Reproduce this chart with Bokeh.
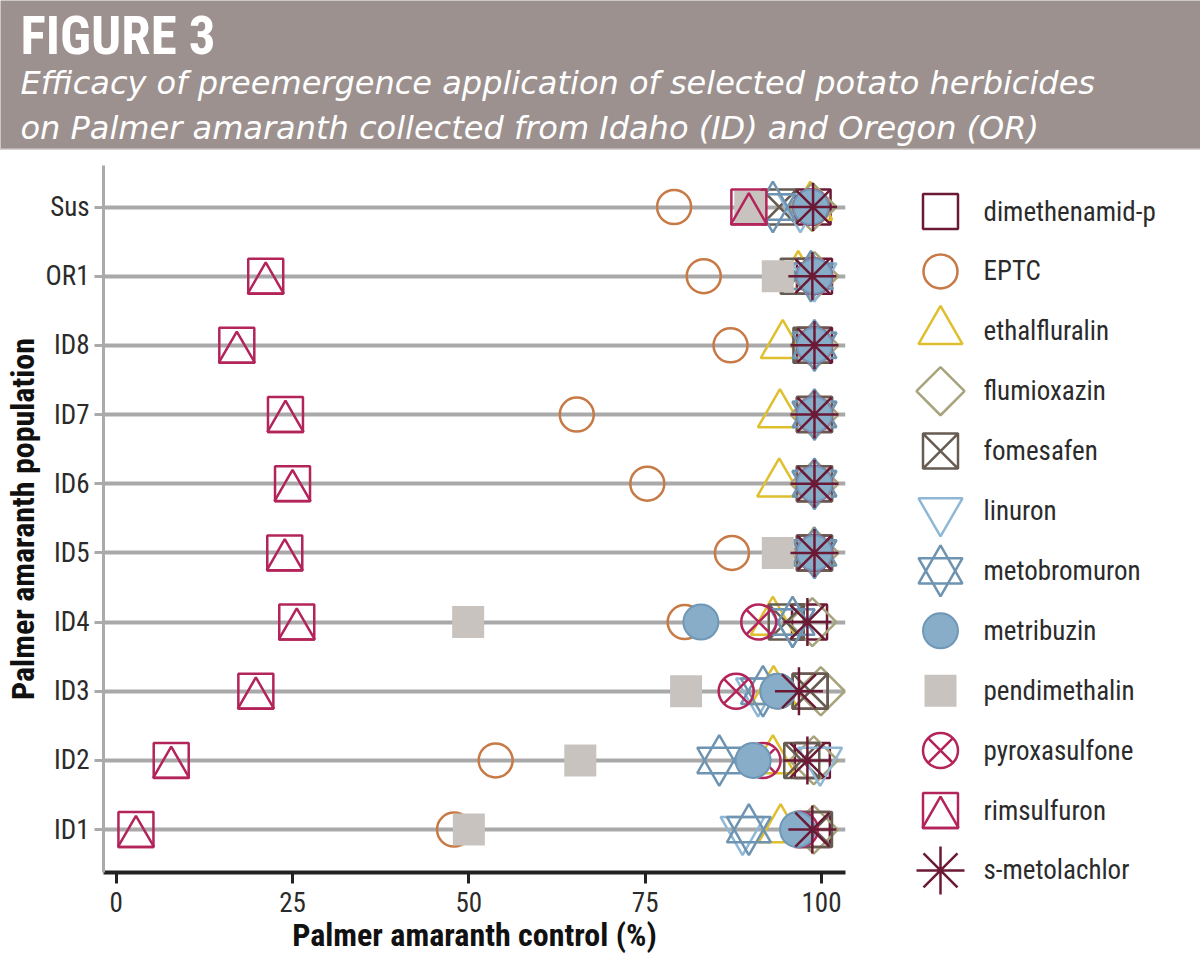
import numpy as np
from bokeh.plotting import figure
from bokeh.models import Range1d, FixedTicker, Label, Span
from bokeh.layouts import column, row
from bokeh.embed import file_html
from bokeh.resources import INLINE
from bokeh.core.properties import value

# ---------------- data ----------------
populations = ["ID1", "ID2", "ID3", "ID4", "ID5", "ID6", "ID7", "ID8", "OR1", "Sus"]
x_ticks = [0, 25, 50, 75, 100]

herbicides = ["dimethenamid-p", "EPTC", "ethalfluralin", "flumioxazin", "fomesafen",
              "linuron", "metobromuron", "metribuzin", "pendimethalin",
              "pyroxasulfone", "rimsulfuron", "s-metolachlor"]

#                  ID1   ID2   ID3   ID4   ID5   ID6   ID7   ID8   OR1   Sus
dimethenamid_p = [98.7, 98.7, 98.4, 98.3, 99.0, 99.0, 99.0, 99.0, 99.0, 98.8]
eptc           = [47.9, 53.8, 93.8, 80.6, 87.3, 75.3, 65.3, 87.1, 83.3, 79.1]
ethalfluralin  = [94.2, 93.1, 93.2, 93.1, 98.9, 94.0, 94.1, 94.5, 96.7, 98.4]
flumioxazin    = [98.9, 98.9, 99.9, 98.7, 99.0, 99.0, 99.0, 99.0, 99.0, 98.7]
fomesafen      = [99.0, 97.2, 98.4, 95.0, 99.0, 99.0, 99.0, 98.5, 96.7, 94.0]
linuron        = [88.8, 99.8, 91.0, 95.9, 99.0, 99.0, 99.0, 99.0, 99.0, 97.0]
metobromuron   = [89.7, 85.5, 91.7, 95.9, 99.0, 99.0, 99.0, 99.0, 98.5, 93.1]
metribuzin     = [96.6, 90.3, 93.8, 82.9, 99.0, 99.0, 99.0, 99.0, 99.0, 98.5]
pendimethalin  = [50.0, 65.8, 80.8, 49.9, 93.8, 99.0, 99.0, 99.0, 93.8, 89.9]
pyroxasulfone  = [97.0, 91.7, 87.9, 91.1, 99.0, 99.0, 99.0, 99.0, 99.0, 98.5]
rimsulfuron    = [2.8, 7.8, 19.8, 25.6, 23.9, 25.0, 24.0, 17.1, 21.2, 89.7]
s_metolachlor  = [98.7, 98.0, 96.8, 98.0, 99.0, 99.0, 99.0, 99.0, 98.7, 98.8]

series = dict(zip(herbicides, [dimethenamid_p, eptc, ethalfluralin, flumioxazin, fomesafen,
                               linuron, metobromuron, metribuzin, pendimethalin,
                               pyroxasulfone, rimsulfuron, s_metolachlor]))

# drawing order (stacking) of the series in the plot
draw_order = ["dimethenamid-p", "EPTC", "ethalfluralin", "flumioxazin", "fomesafen",
              "linuron", "metobromuron", "pendimethalin", "pyroxasulfone", "metribuzin",
              "rimsulfuron", "s-metolachlor"]

# ---------------- styles ----------------
MAROON = "#6b1a36"
CRIMSON = "#b3245a"
LW = 2.5
styles = {
    "dimethenamid-p": [dict(marker="square", size=35, line_color=MAROON, fill_color=None)],
    "EPTC": [dict(marker="circle", size=34, line_color="#c77a45", fill_color=None)],
    "ethalfluralin": [dict(marker="triangle", size=44, line_color="#dfbf2e", fill_color=None)],
    "flumioxazin": [dict(marker="square", size=34, line_color="#a7a47c", fill_color=None, angle=np.pi / 4)],
    "fomesafen": [dict(marker="square_x", size=35, line_color="#675c52", fill_color=None)],
    "linuron": [dict(marker="inverted_triangle", size=44, line_color="#8fb8d6", fill_color=None)],
    "metobromuron": [dict(marker="triangle", size=44, line_color="#6e94b2", fill_color=None),
                     dict(marker="inverted_triangle", size=44, line_color="#6e94b2", fill_color=None)],
    "metribuzin": [dict(marker="circle", size=35, line_color="#6f98b8", fill_color="#87adc9", lw=2)],
    "pendimethalin": [dict(marker="square", size=32, line_color=None, fill_color="#c9c3c0")],
    "pyroxasulfone": [dict(marker="circle_x", size=35, line_color=CRIMSON, fill_color=None)],
    "rimsulfuron": [dict(marker="square", size=35, line_color=CRIMSON, fill_color=None),
                    dict(marker="triangle", size=36, line_color=CRIMSON, fill_color=None, dy_px=7)],
    "s-metolachlor": [dict(marker="asterisk", size=48, line_color=MAROON, fill_color=None)],
}

FONT = "'Roboto Condensed', 'Liberation Sans Narrow', 'DejaVu Sans Condensed', sans-serif"
SUBFONT = "'DejaVu Sans', 'Open Sans', sans-serif"
TXT = "#2b2b2b"


def draw(fig, xs, ys, spec, px_per_unit, flip=False):
    dy = spec.get("dy_px", 0) / px_per_unit
    yy = [y + dy for y in ys] if flip else [y - dy for y in ys]
    fig.scatter(x=xs, y=yy, marker=spec["marker"], size=spec["size"],
                angle=spec.get("angle", 0.0),
                line_color=spec["line_color"], fill_color=spec["fill_color"],
                line_width=spec.get("lw", LW))


# ---------------- header ----------------
header = figure(width=1200, height=150, x_range=Range1d(0, 1200), y_range=Range1d(150, 0),
                x_axis_type=None, y_axis_type=None, output_backend="svg",
                toolbar_location=None, min_border=0, outline_line_color=None,
                background_fill_color="#9c918e", border_fill_color="#9c918e")
header.grid.visible = False
header.add_layout(Label(x=20, y=35, text="FIGURE 3", text_color="white",
                        text_font=FONT, text_font_style="bold", text_font_size="53px",
                        text_baseline="middle"))
header.add_layout(Label(x=20, y=82, text="Efficacy of preemergence application of selected potato herbicides",
                        text_color="white", text_font=SUBFONT, text_font_style="italic",
                        text_font_size="32px", text_baseline="middle"))
header.add_layout(Label(x=20, y=127, text="on Palmer amaranth collected from Idaho (ID) and Oregon (OR)",
                        text_color="white", text_font=SUBFONT, text_font_style="italic",
                        text_font_size="32px", text_baseline="middle"))
header.add_layout(Span(location=149, dimension="width", line_color="#d8d3d1", line_width=2))

# ---------------- main plot ----------------
Y0, Y1 = -0.62, 9.6
FRAME_H = 710
TOP, BOTTOM = 15, 81
p = figure(width=860, height=806, x_range=Range1d(-1.8, 103.4), y_range=Range1d(Y0, Y1),
           output_backend="svg", toolbar_location=None,
           min_border_left=100, min_border_right=15, min_border_top=TOP,
           min_border_bottom=BOTTOM, outline_line_color=None)
px_y = FRAME_H / (Y1 - Y0)

p.xgrid.visible = False
p.ygrid.grid_line_color = "#a9a9a9"
p.ygrid.grid_line_width = 4

p.yaxis.ticker = FixedTicker(ticks=list(range(len(populations))))
p.yaxis.major_label_overrides = {i: name for i, name in enumerate(populations)}
p.yaxis.axis_line_color = "#aaaaaa"
p.yaxis.axis_line_width = 3
p.yaxis.major_tick_line_color = "#aaaaaa"
p.yaxis.major_tick_line_width = 3
p.yaxis.major_tick_out = 9
p.yaxis.major_tick_in = 0
p.yaxis.minor_tick_line_color = None
p.yaxis.axis_label = "Palmer amaranth population"

p.xaxis.ticker = FixedTicker(ticks=x_ticks)
p.xaxis.axis_line_color = "#222222"
p.xaxis.axis_line_width = 4
p.xaxis.major_tick_line_color = "#222222"
p.xaxis.major_tick_line_width = 3
p.xaxis.major_tick_out = 11
p.xaxis.major_tick_in = 0
p.xaxis.minor_tick_line_color = None
p.xaxis.axis_label = "Palmer amaranth control (%)"

for ax in (p.xaxis, p.yaxis):
    ax.major_label_text_font = FONT
    ax.major_label_text_font_size = "27px"
    ax.major_label_text_color = TXT
    ax.axis_label_text_font = FONT
    ax.axis_label_text_font_size = "32px"
    ax.axis_label_text_font_style = "bold"
    ax.axis_label_text_color = "#111111"
p.xaxis.major_label_standoff = 8
p.xaxis.axis_label_standoff = 1
p.yaxis.major_label_standoff = 5
p.yaxis.axis_label_standoff = 1

ys = list(range(len(populations)))
for name in draw_order:
    for spec in styles[name]:
        draw(p, series[name], ys, spec, px_y)

# ---------------- legend ----------------
LEG_H = 806
leg = figure(width=340, height=LEG_H, x_range=Range1d(0, 340), y_range=Range1d(LEG_H, 0),
             x_axis_type=None, y_axis_type=None, output_backend="svg",
             toolbar_location=None, min_border=0, outline_line_color=None)
leg.grid.visible = False
row_y = [61 + 59.9 * i for i in range(len(herbicides))]
for i, name in enumerate(herbicides):
    for spec in styles[name]:
        draw(leg, [80], [row_y[i]], spec, 1.0, flip=True)
leg.text(x=[123] * len(herbicides), y=row_y, text=herbicides,
         text_font=value(FONT), text_font_size="27px", text_baseline="middle",
         text_color=TXT)

layout = column(header, row(p, column(leg)))
open("out.html", "w").write(file_html(layout, INLINE))
